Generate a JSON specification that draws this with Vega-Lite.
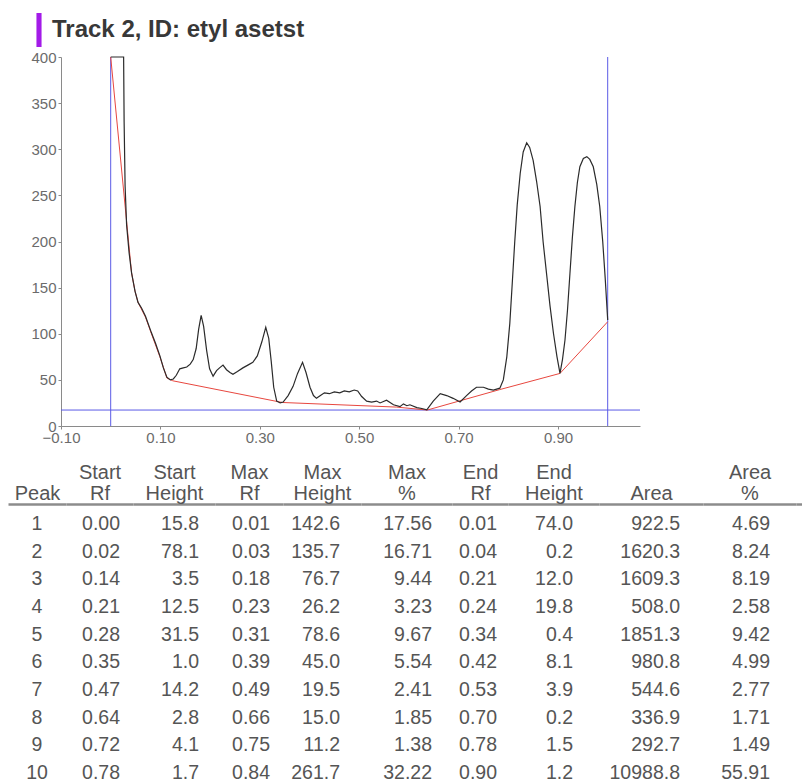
{
  "$schema": "https://vega.github.io/schema/vega-lite/v6.json",
  "padding": {"left": 8, "top": 13, "right": 0, "bottom": 0},
  "background": "white",
  "spacing": 17,
  "config": {
    "view": {"stroke": null},
    "font": "Liberation Sans",
    "axis": {"labelFont": "Liberation Sans", "titleFont": "Liberation Sans"},
    "axisTop": {
      "labels": false, "ticks": false, "grid": false, "domain": true,
      "domainColor": "#8c8c8c", "domainWidth": 2.5,
      "titleFontSize": 20, "titleFontWeight": "normal", "titleColor": "#555555",
      "titlePadding": 1, "titleLineHeight": 21
    },
    "text": {"font": "Liberation Sans", "fontSize": 19.5, "color": "#555555", "baseline": "middle"}
  },
  "datasets": {
    "trace": [
      {"Rf": 0.000, "value": 400}, {"Rf": 0.026, "value": 400}, {"Rf": 0.027, "value": 330},
      {"Rf": 0.029, "value": 260}, {"Rf": 0.032, "value": 218}, {"Rf": 0.037, "value": 188},
      {"Rf": 0.042, "value": 166}, {"Rf": 0.049, "value": 146}, {"Rf": 0.055, "value": 134},
      {"Rf": 0.062, "value": 128}, {"Rf": 0.070, "value": 119}, {"Rf": 0.082, "value": 101},
      {"Rf": 0.090, "value": 90}, {"Rf": 0.099, "value": 76}, {"Rf": 0.106, "value": 63},
      {"Rf": 0.113, "value": 53}, {"Rf": 0.120, "value": 50}, {"Rf": 0.126, "value": 51},
      {"Rf": 0.132, "value": 55}, {"Rf": 0.139, "value": 62}, {"Rf": 0.146, "value": 63},
      {"Rf": 0.153, "value": 64}, {"Rf": 0.160, "value": 67}, {"Rf": 0.166, "value": 72},
      {"Rf": 0.172, "value": 84}, {"Rf": 0.177, "value": 105}, {"Rf": 0.182, "value": 120},
      {"Rf": 0.187, "value": 108}, {"Rf": 0.193, "value": 82}, {"Rf": 0.199, "value": 62},
      {"Rf": 0.206, "value": 54}, {"Rf": 0.213, "value": 60}, {"Rf": 0.219, "value": 63},
      {"Rf": 0.226, "value": 66}, {"Rf": 0.233, "value": 61}, {"Rf": 0.240, "value": 58},
      {"Rf": 0.246, "value": 56}, {"Rf": 0.255, "value": 59}, {"Rf": 0.266, "value": 63},
      {"Rf": 0.276, "value": 66}, {"Rf": 0.286, "value": 69}, {"Rf": 0.295, "value": 76},
      {"Rf": 0.304, "value": 91}, {"Rf": 0.312, "value": 107}, {"Rf": 0.318, "value": 95},
      {"Rf": 0.323, "value": 70}, {"Rf": 0.328, "value": 42}, {"Rf": 0.334, "value": 27},
      {"Rf": 0.341, "value": 25}, {"Rf": 0.347, "value": 26}, {"Rf": 0.357, "value": 33},
      {"Rf": 0.367, "value": 43}, {"Rf": 0.376, "value": 57}, {"Rf": 0.386, "value": 69},
      {"Rf": 0.393, "value": 58}, {"Rf": 0.401, "value": 42}, {"Rf": 0.408, "value": 33},
      {"Rf": 0.414, "value": 30}, {"Rf": 0.422, "value": 33}, {"Rf": 0.430, "value": 36},
      {"Rf": 0.440, "value": 35}, {"Rf": 0.450, "value": 37}, {"Rf": 0.461, "value": 36},
      {"Rf": 0.470, "value": 38}, {"Rf": 0.480, "value": 37}, {"Rf": 0.490, "value": 39},
      {"Rf": 0.497, "value": 38}, {"Rf": 0.505, "value": 32}, {"Rf": 0.515, "value": 27},
      {"Rf": 0.525, "value": 26}, {"Rf": 0.535, "value": 27}, {"Rf": 0.542, "value": 25},
      {"Rf": 0.555, "value": 28}, {"Rf": 0.569, "value": 23}, {"Rf": 0.582, "value": 21},
      {"Rf": 0.589, "value": 24}, {"Rf": 0.596, "value": 22}, {"Rf": 0.602, "value": 23},
      {"Rf": 0.616, "value": 20}, {"Rf": 0.626, "value": 19}, {"Rf": 0.636, "value": 17.5},
      {"Rf": 0.649, "value": 27}, {"Rf": 0.663, "value": 35}, {"Rf": 0.676, "value": 33},
      {"Rf": 0.689, "value": 30}, {"Rf": 0.703, "value": 26}, {"Rf": 0.716, "value": 33},
      {"Rf": 0.726, "value": 38}, {"Rf": 0.736, "value": 42}, {"Rf": 0.750, "value": 42},
      {"Rf": 0.760, "value": 40}, {"Rf": 0.770, "value": 39}, {"Rf": 0.783, "value": 41},
      {"Rf": 0.790, "value": 50}, {"Rf": 0.797, "value": 75}, {"Rf": 0.803, "value": 111},
      {"Rf": 0.808, "value": 155}, {"Rf": 0.813, "value": 200}, {"Rf": 0.818, "value": 240},
      {"Rf": 0.824, "value": 274}, {"Rf": 0.830, "value": 297}, {"Rf": 0.837, "value": 307},
      {"Rf": 0.843, "value": 302}, {"Rf": 0.850, "value": 288}, {"Rf": 0.857, "value": 265},
      {"Rf": 0.864, "value": 238}, {"Rf": 0.870, "value": 200}, {"Rf": 0.877, "value": 165},
      {"Rf": 0.884, "value": 130}, {"Rf": 0.891, "value": 100}, {"Rf": 0.898, "value": 75},
      {"Rf": 0.904, "value": 57}, {"Rf": 0.909, "value": 72}, {"Rf": 0.914, "value": 93},
      {"Rf": 0.919, "value": 125}, {"Rf": 0.924, "value": 165}, {"Rf": 0.929, "value": 205},
      {"Rf": 0.934, "value": 238}, {"Rf": 0.939, "value": 264}, {"Rf": 0.944, "value": 281},
      {"Rf": 0.951, "value": 290}, {"Rf": 0.958, "value": 292}, {"Rf": 0.964, "value": 289},
      {"Rf": 0.971, "value": 281}, {"Rf": 0.978, "value": 262}, {"Rf": 0.984, "value": 238},
      {"Rf": 0.990, "value": 200}, {"Rf": 0.995, "value": 160}, {"Rf": 1.000, "value": 115}
    ],
    "baseline": [
      {"Rf": 0.000, "value": 400}, {"Rf": 0.042, "value": 166}, {"Rf": 0.049, "value": 146},
      {"Rf": 0.055, "value": 134}, {"Rf": 0.070, "value": 118}, {"Rf": 0.082, "value": 100},
      {"Rf": 0.099, "value": 75}, {"Rf": 0.113, "value": 52}, {"Rf": 0.125, "value": 49},
      {"Rf": 0.345, "value": 25.5}, {"Rf": 0.575, "value": 20.5}, {"Rf": 0.637, "value": 17.3},
      {"Rf": 0.783, "value": 39.5}, {"Rf": 0.904, "value": 57}, {"Rf": 1.000, "value": 113}
    ],
    "peaks": [
      {"Peak": 1, "StartRf": 0.00, "StartHeight": 15.8, "MaxRf": 0.01, "MaxHeight": 142.6, "MaxPct": 17.56, "EndRf": 0.01, "EndHeight": 74.0, "Area": 922.5, "AreaPct": 4.69},
      {"Peak": 2, "StartRf": 0.02, "StartHeight": 78.1, "MaxRf": 0.03, "MaxHeight": 135.7, "MaxPct": 16.71, "EndRf": 0.04, "EndHeight": 0.2, "Area": 1620.3, "AreaPct": 8.24},
      {"Peak": 3, "StartRf": 0.14, "StartHeight": 3.5, "MaxRf": 0.18, "MaxHeight": 76.7, "MaxPct": 9.44, "EndRf": 0.21, "EndHeight": 12.0, "Area": 1609.3, "AreaPct": 8.19},
      {"Peak": 4, "StartRf": 0.21, "StartHeight": 12.5, "MaxRf": 0.23, "MaxHeight": 26.2, "MaxPct": 3.23, "EndRf": 0.24, "EndHeight": 19.8, "Area": 508.0, "AreaPct": 2.58},
      {"Peak": 5, "StartRf": 0.28, "StartHeight": 31.5, "MaxRf": 0.31, "MaxHeight": 78.6, "MaxPct": 9.67, "EndRf": 0.34, "EndHeight": 0.4, "Area": 1851.3, "AreaPct": 9.42},
      {"Peak": 6, "StartRf": 0.35, "StartHeight": 1.0, "MaxRf": 0.39, "MaxHeight": 45.0, "MaxPct": 5.54, "EndRf": 0.42, "EndHeight": 8.1, "Area": 980.8, "AreaPct": 4.99},
      {"Peak": 7, "StartRf": 0.47, "StartHeight": 14.2, "MaxRf": 0.49, "MaxHeight": 19.5, "MaxPct": 2.41, "EndRf": 0.53, "EndHeight": 3.9, "Area": 544.6, "AreaPct": 2.77},
      {"Peak": 8, "StartRf": 0.64, "StartHeight": 2.8, "MaxRf": 0.66, "MaxHeight": 15.0, "MaxPct": 1.85, "EndRf": 0.70, "EndHeight": 0.2, "Area": 336.9, "AreaPct": 1.71},
      {"Peak": 9, "StartRf": 0.72, "StartHeight": 4.1, "MaxRf": 0.75, "MaxHeight": 11.2, "MaxPct": 1.38, "EndRf": 0.78, "EndHeight": 1.5, "Area": 292.7, "AreaPct": 1.49},
      {"Peak": 10, "StartRf": 0.78, "StartHeight": 1.7, "MaxRf": 0.84, "MaxHeight": 261.7, "MaxPct": 32.22, "EndRf": 0.90, "EndHeight": 1.2, "Area": 10988.8, "AreaPct": 55.91}
    ]
  },
  "vconcat": [
    {
      "hconcat": [
        {
          "width": 53, "height": 10,
          "data": {"values": [{}]},
          "mark": {"type": "text"},
          "encoding": {"text": {"value": ""}}
        },
        {
          "width": 579, "height": 369,
          "layer": [
            {
              "data": {"values": [{"Rf": 0}, {"Rf": 1}]},
              "mark": {"type": "rule", "color": "#5a5ae6", "strokeWidth": 1},
              "encoding": {
                "x": {"field": "Rf", "type": "quantitative", "scale": {"domain": [-0.1, 1.065], "nice": false, "zero": false},
                      "axis": {"values": [-0.1, 0.1, 0.3, 0.5, 0.7, 0.9], "format": ".2f", "title": null, "grid": false, "labelFontSize": 15, "labelColor": "#6b6b6b", "domainColor": "#8a8a8a", "tickColor": "#8a8a8a", "tickSize": 3, "labelPadding": 1, "labelFlush": false}}
              }
            },
            {
              "data": {"values": [{"value": 17.3}]},
              "mark": {"type": "rule", "color": "#5a5ae6", "strokeWidth": 1},
              "encoding": {
                "y": {"field": "value", "type": "quantitative", "scale": {"domain": [0, 400], "nice": false},
                      "axis": {"values": [0, 50, 100, 150, 200, 250, 300, 350, 400], "title": null, "grid": false, "labelFontSize": 15, "labelColor": "#6b6b6b", "domainColor": "#8a8a8a", "tickColor": "#8a8a8a", "tickSize": 3, "labelPadding": 2}}
              }
            },
            {
              "data": {"name": "baseline"},
              "mark": {"type": "line", "color": "#e8473f", "strokeWidth": 1},
              "encoding": {
                "x": {"field": "Rf", "type": "quantitative"},
                "y": {"field": "value", "type": "quantitative"}
              }
            },
            {
              "data": {"name": "trace"},
              "mark": {"type": "line", "strokeWidth": 1.2},
              "encoding": {
                "x": {"field": "Rf", "type": "quantitative"},
                "y": {"field": "value", "type": "quantitative"},
                "color": {
                  "datum": "Track 2, ID: etyl asetst",
                  "scale": {"range": ["#2b2b2b"]},
                  "legend": {
                    "orient": "none", "legendX": 14, "legendY": -44, "title": null, "padding": 0,
                    "symbolType": "M-0.15,-1H0.15V1H-0.15Z", "symbolSize": 1156, "symbolStrokeWidth": 0,
                    "symbolFillColor": "#a31be8", "symbolOpacity": 1,
                    "labelFontSize": 24, "labelFontWeight": "bold", "labelColor": "#383838", "labelFont": "Liberation Sans",
                    "labelOffset": -4, "labelLimit": 400,
                    "encode": {"symbols": {"update": {"fill": {"value": "#a31be8"}, "fillOpacity": {"value": 1}, "stroke": {"value": "#a31be8"}, "strokeWidth": {"value": 0}}}}
                  }
                }
              }
            }
          ]
        }
      ],
      "spacing": 0,
      "bounds": "flush"
    },
    {
      "hconcat": [
        {
          "width": 58, "height": 277, "data": {"name": "peaks"},
          "mark": {"type": "text", "align": "center"},
          "encoding": {
            "x": {"datum": 0, "type": "quantitative", "scale": {"domain": [-1, 1]}, "axis": {"orient": "top", "title": "Peak"}},
            "y": {"field": "Peak", "type": "quantitative", "scale": {"domain": [0.27, 10.29], "reverse": true, "nice": false, "zero": false}, "axis": null},
            "text": {"field": "Peak", "type": "quantitative", "format": "d"}
          }
        },
        {
          "width": 67, "height": 277, "data": {"name": "peaks"},
          "mark": {"type": "text", "align": "right", "dx": 20.5},
          "encoding": {
            "x": {"datum": 0, "type": "quantitative", "scale": {"domain": [-1, 1]}, "axis": {"orient": "top", "title": ["Start", "Rf"]}},
            "y": {"field": "Peak", "type": "quantitative", "scale": {"domain": [0.27, 10.29], "reverse": true, "nice": false, "zero": false}, "axis": null},
            "text": {"field": "StartRf", "type": "quantitative", "format": ".2f"}
          }
        },
        {
          "width": 82, "height": 277, "data": {"name": "peaks"},
          "mark": {"type": "text", "align": "right", "dx": 25},
          "encoding": {
            "x": {"datum": 0, "type": "quantitative", "scale": {"domain": [-1, 1]}, "axis": {"orient": "top", "title": ["Start", "Height"]}},
            "y": {"field": "Peak", "type": "quantitative", "scale": {"domain": [0.27, 10.29], "reverse": true, "nice": false, "zero": false}, "axis": null},
            "text": {"field": "StartHeight", "type": "quantitative", "format": ".1f"}
          }
        },
        {
          "width": 68, "height": 277, "data": {"name": "peaks"},
          "mark": {"type": "text", "align": "right", "dx": 21},
          "encoding": {
            "x": {"datum": 0, "type": "quantitative", "scale": {"domain": [-1, 1]}, "axis": {"orient": "top", "title": ["Max", "Rf"]}},
            "y": {"field": "Peak", "type": "quantitative", "scale": {"domain": [0.27, 10.29], "reverse": true, "nice": false, "zero": false}, "axis": null},
            "text": {"field": "MaxRf", "type": "quantitative", "format": ".2f"}
          }
        },
        {
          "width": 78, "height": 277, "data": {"name": "peaks"},
          "mark": {"type": "text", "align": "right", "dx": 18},
          "encoding": {
            "x": {"datum": 0, "type": "quantitative", "scale": {"domain": [-1, 1]}, "axis": {"orient": "top", "title": ["Max", "Height"]}},
            "y": {"field": "Peak", "type": "quantitative", "scale": {"domain": [0.27, 10.29], "reverse": true, "nice": false, "zero": false}, "axis": null},
            "text": {"field": "MaxHeight", "type": "quantitative", "format": ".1f"}
          }
        },
        {
          "width": 91, "height": 277, "data": {"name": "peaks"},
          "mark": {"type": "text", "align": "right", "dx": 25.5},
          "encoding": {
            "x": {"datum": 0, "type": "quantitative", "scale": {"domain": [-1, 1]}, "axis": {"orient": "top", "title": ["Max", "%"]}},
            "y": {"field": "Peak", "type": "quantitative", "scale": {"domain": [0.27, 10.29], "reverse": true, "nice": false, "zero": false}, "axis": null},
            "text": {"field": "MaxPct", "type": "quantitative", "format": ".2f"}
          }
        },
        {
          "width": 56, "height": 277, "data": {"name": "peaks"},
          "mark": {"type": "text", "align": "right", "dx": 17},
          "encoding": {
            "x": {"datum": 0, "type": "quantitative", "scale": {"domain": [-1, 1]}, "axis": {"orient": "top", "title": ["End", "Rf"]}},
            "y": {"field": "Peak", "type": "quantitative", "scale": {"domain": [0.27, 10.29], "reverse": true, "nice": false, "zero": false}, "axis": null},
            "text": {"field": "EndRf", "type": "quantitative", "format": ".2f"}
          }
        },
        {
          "width": 91, "height": 277, "data": {"name": "peaks"},
          "mark": {"type": "text", "align": "right", "dx": 19.5},
          "encoding": {
            "x": {"datum": 0, "type": "quantitative", "scale": {"domain": [-1, 1]}, "axis": {"orient": "top", "title": ["End", "Height"]}},
            "y": {"field": "Peak", "type": "quantitative", "scale": {"domain": [0.27, 10.29], "reverse": true, "nice": false, "zero": false}, "axis": null},
            "text": {"field": "EndHeight", "type": "quantitative", "format": ".1f"}
          }
        },
        {
          "width": 104, "height": 277, "data": {"name": "peaks"},
          "mark": {"type": "text", "align": "right", "dx": 29},
          "encoding": {
            "x": {"datum": 0, "type": "quantitative", "scale": {"domain": [-1, 1]}, "axis": {"orient": "top", "title": "Area"}},
            "y": {"field": "Peak", "type": "quantitative", "scale": {"domain": [0.27, 10.29], "reverse": true, "nice": false, "zero": false}, "axis": null},
            "text": {"field": "Area", "type": "quantitative", "format": ".1f"}
          }
        },
        {
          "width": 93, "height": 277, "data": {"name": "peaks"},
          "mark": {"type": "text", "align": "right", "dx": 20.5},
          "encoding": {
            "x": {"datum": 0, "type": "quantitative", "scale": {"domain": [-1, 1]}, "axis": {"orient": "top", "title": ["Area", "%"]}},
            "y": {"field": "Peak", "type": "quantitative", "scale": {"domain": [0.27, 10.29], "reverse": true, "nice": false, "zero": false}, "axis": null},
            "text": {"field": "AreaPct", "type": "quantitative", "format": ".2f"}
          }
        },
        {
          "width": 6, "height": 277, "data": {"values": [{}]},
          "mark": {"type": "text"},
          "encoding": {
            "x": {"datum": 0, "type": "quantitative", "scale": {"domain": [-1, 1]}, "axis": {"orient": "top", "title": null}},
            "text": {"value": ""}
          }
        }
      ],
      "spacing": 0,
      "bounds": "flush"
    }
  ]
}
